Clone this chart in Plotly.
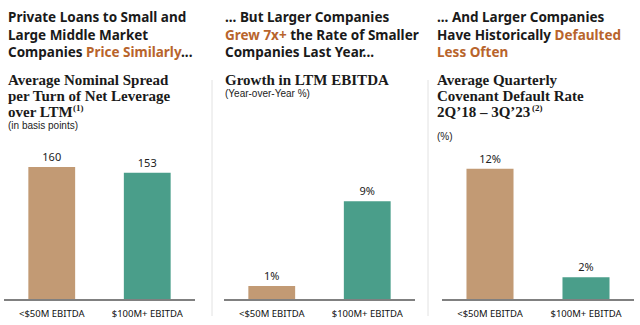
import plotly.graph_objects as go

categories = ["<$50M EBITDA", "$100M+ EBITDA"]
spread_bps = [160, 153]
ebitda_growth = [1.2, 9.0]
default_rate = [12.0, 2.0]
spread_labels = ["160", "153"]
growth_labels = ["1%", "9%"]
default_labels = ["12%", "2%"]

TAN = "#C29A74"
GREEN = "#4A9E8A"
ORANGE = "#B8642C"
INK = "#1a1a1a"
W, H = 640, 325

def px(x):
    return x / W

def py(y):
    return 1 - y / H

fig = go.Figure()

panels = [
    ("", (4, 195), spread_bps, spread_labels, 192.7),
    ("2", (224, 415), ebitda_growth, growth_labels, 14.65),
    ("3", (442, 634), default_rate, default_labels, 14.65),
]

for sfx, (x0, x1), vals, labels, ymax in panels:
    fig.add_trace(go.Bar(
        x=categories, y=vals, text=labels, textposition="outside",
        marker=dict(color=[TAN, GREEN], line=dict(width=0)),
        width=0.49, cliponaxis=False,
        textfont=dict(family="Noto Sans", size=11, color="#222"),
        xaxis="x" + sfx, yaxis="y" + sfx, showlegend=False, hoverinfo="skip",
    ))
    fig.update_layout(**{
        "xaxis" + sfx: dict(domain=[px(x0), px(x1)], anchor="y" + sfx,
                            showline=True, linecolor="#808080", linewidth=2,
                            ticks="", showgrid=False, fixedrange=True,
                            ticklabelstandoff=5,
                            tickfont=dict(family="Noto Sans", size=9.5, color="#111")),
        "yaxis" + sfx: dict(domain=[py(299), py(140)], anchor="x" + sfx,
                            range=[0, ymax], visible=False, showgrid=False,
                            zeroline=False, fixedrange=True),
    })

O = "<span style='color:%s'>%%s</span>" % ORANGE
titles = [
    (6, ["Private Loans to Small and", "Large Middle Market",
         "Companies " + O % "Price Similarly" + "..."]),
    (223, ["... But Larger Companies", O % "Grew 7x+" + " the Rate of Smaller",
           "Companies Last Year..."]),
    (435, ["... And Larger Companies", "Have Historically " + O % "Defaulted",
           O % "Less Often"]),
]
subtitles = [
    (6, ["Average Nominal Spread", "per Turn of Net Leverage", "over LTM"]),
    (223, ["Growth in LTM EBITDA"]),
    (435, ["Average Quarterly", "Covenant Default Rate", "2Q’18 – 3Q’23"]),
]
footnote_marks = [
    (71, 108, "(1)"),
    (530, 108, "(2)"),
]
smalls = [
    (6, 126, "(in basis points)"),
    (223, 93, "(Year-over-Year %)"),
    (435, 136, "(%)"),
]

anns = []
for x, lines in titles:
    for i, t in enumerate(lines):
        anns.append(dict(x=px(x), y=py(17 + 17.5 * i), xref="paper", yref="paper",
                         xanchor="left", yanchor="middle", align="left", showarrow=False,
                         text="<b>%s</b>" % t,
                         font=dict(family="Noto Sans", size=13.5, color=INK)))
for x, lines in subtitles:
    for i, t in enumerate(lines):
        anns.append(dict(x=px(x), y=py(80 + 15.8 * i), xref="paper", yref="paper",
                         xanchor="left", yanchor="middle", align="left", showarrow=False,
                         text="<b>%s</b>" % t,
                         font=dict(family="Liberation Serif", size=15, color=INK)))
for x, y, t in footnote_marks:
    anns.append(dict(x=px(x), y=py(y), xref="paper", yref="paper", xanchor="left",
                     yanchor="middle", align="left", showarrow=False, text="<b>%s</b>" % t,
                     font=dict(family="Liberation Serif", size=9, color=INK)))
for x, y, t in smalls:
    anns.append(dict(x=px(x), y=py(y), xref="paper", yref="paper", xanchor="left",
                     yanchor="middle", align="left", showarrow=False, text=t,
                     font=dict(family="Liberation Sans", size=10, color="#222")))

shapes = []
for xs in (212, 428):
    shapes.append(dict(type="line", xref="paper", yref="paper", x0=px(xs), x1=px(xs),
                       y0=py(80), y1=py(316), line=dict(color="#e2e2e2", width=1)))

fig.update_layout(width=W, height=H, margin=dict(l=0, r=0, t=0, b=0),
                  paper_bgcolor="white", plot_bgcolor="white",
                  annotations=anns, shapes=shapes, bargap=0.51)

fig.write_html("out.html")
